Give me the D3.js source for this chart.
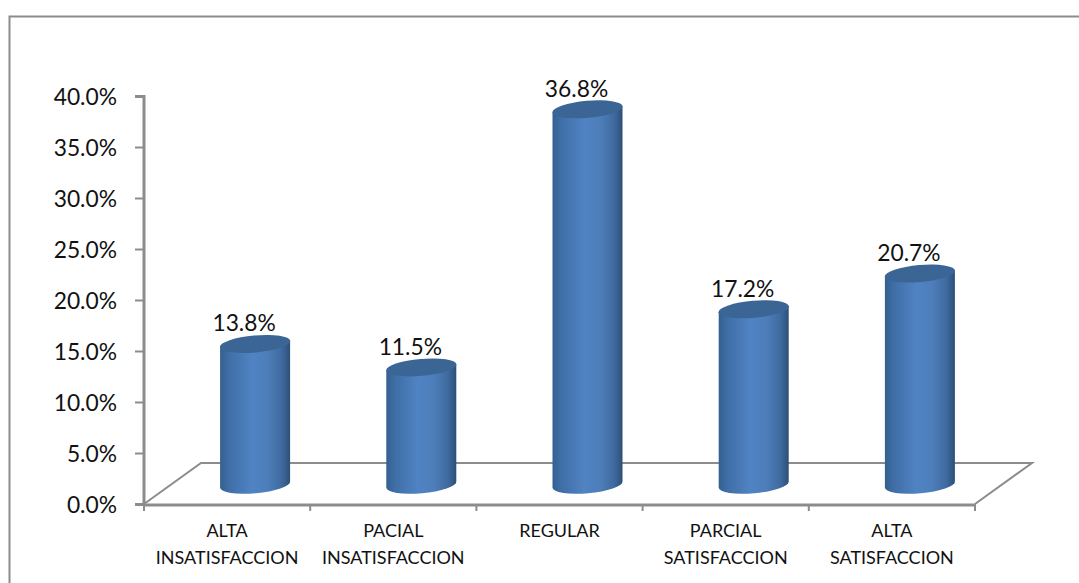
<!DOCTYPE html>
<html><head><meta charset="utf-8">
<script src="https://cdn.jsdelivr.net/npm/d3@7"></script>
<style>html,body{margin:0;padding:0;background:#fff}svg{display:block}text{font-family:Lato,"Open Sans",sans-serif;fill:#111}</style>
</head><body><div id="c"></div>
<script>
const categories=[["ALTA","INSATISFACCION"],["PACIAL","INSATISFACCION"],["REGULAR"],["PARCIAL","SATISFACCION"],["ALTA","SATISFACCION"]];
const values=[13.8,11.5,36.8,17.2,20.7];
const valueLabels=["13.8%","11.5%","36.8%","17.2%","20.7%"];
const yTicks=[0,5,10,15,20,25,30,35,40];
const W=1079,H=583,axisC="#8c8c8c";
const svg=d3.select("#c").append("svg").attr("width",W).attr("height",H);
const y=d3.scaleLinear().domain([0,40]).range([504,96]);
const x=d3.scaleBand().domain(d3.range(5)).range([144,975]).paddingInner(0).paddingOuter(0);
const defs=svg.append("defs");
const grad=defs.append("linearGradient").attr("id","cyl");
[[0,"#33608f"],[.12,"#3f6ea6"],[.45,"#5083c3"],[.68,"#4d7eba"],[.88,"#3f6a9f"],[1,"#2d4f78"]].forEach(s=>grad.append("stop").attr("offset",s[0]).attr("stop-color",s[1]));
svg.append("path").attr("d",`M9.5,583V16.5H1079`).attr("fill","none").attr("stroke",axisC).attr("stroke-width",2);
const dx=57,dy=y(0)-463;
svg.append("path").attr("fill","none").attr("stroke",axisC).attr("stroke-width",2)
 .attr("d",`M${x.range()[0]},${y(0)}L${x.range()[0]+dx},${y(0)-dy}H${x.range()[1]+dx}L${x.range()[1]},${y(0)}`);
const yAxis=d3.axisLeft(y).tickValues(yTicks).tickSize(9).tickPadding(18).tickFormat(d=>d.toFixed(1)+"%");
const gy=svg.append("g").attr("transform","translate(144,0)").call(yAxis);
gy.selectAll("text").attr("font-size",22.8).attr("dy","0.37em");
svg.selectAll("line.xt").data(d3.range(6)).join("line").attr("class","xt")
 .attr("x1",i=>144+i*x.step()).attr("x2",i=>144+i*x.step()).attr("y1",504).attr("y2",511).attr("stroke",axisC).attr("stroke-width",2);
gy.selectAll(".domain").attr("stroke",axisC).attr("stroke-width",3).attr("fill","none").attr("d","M-9,96.5H0V504.5H-9");
gy.selectAll("line").attr("stroke",axisC).attr("stroke-width",2);
svg.append("line").attr("x1",143).attr("x2",976).attr("y1",505).attr("y2",505).attr("stroke",axisC).attr("stroke-width",3);
const rx=35,ry=8.5,tilt=-5,baseY=y(0)-19.3;
const bars=svg.selectAll("g.bar").data(values).join("g").attr("class","bar");
bars.each(function(v,i){
  const g=d3.select(this),cx=x(i)+x.bandwidth()/2+28;
  const topY=baseY-(y(0)-y(v));
  const sl=rx*Math.tan(-tilt*Math.PI/180);
  g.append("path").attr("fill","url(#cyl)")
   .attr("d",`M${cx-rx},${topY+sl}L${cx-rx},${baseY+sl}A${rx},${ry} ${tilt} 0 0 ${cx+rx},${baseY-sl}L${cx+rx},${topY-sl}Z`);
  g.append("ellipse").attr("cx",cx).attr("cy",topY).attr("rx",rx+.3).attr("ry",ry)
   .attr("transform",`rotate(${tilt} ${cx} ${topY})`).attr("fill","#3a6594");
  g.append("text").attr("x",cx-11).attr("y",topY-12.5).attr("text-anchor","middle").attr("font-size",22.8).text(valueLabels[i]);
});
categories.forEach((c,i)=>{
  const cx=x(i)+x.bandwidth()/2;
  c.forEach((t,j)=>svg.append("text").attr("x",cx).attr("y",537+j*27).attr("text-anchor","middle").attr("font-size",18).text(t));
});
</script></body></html>
